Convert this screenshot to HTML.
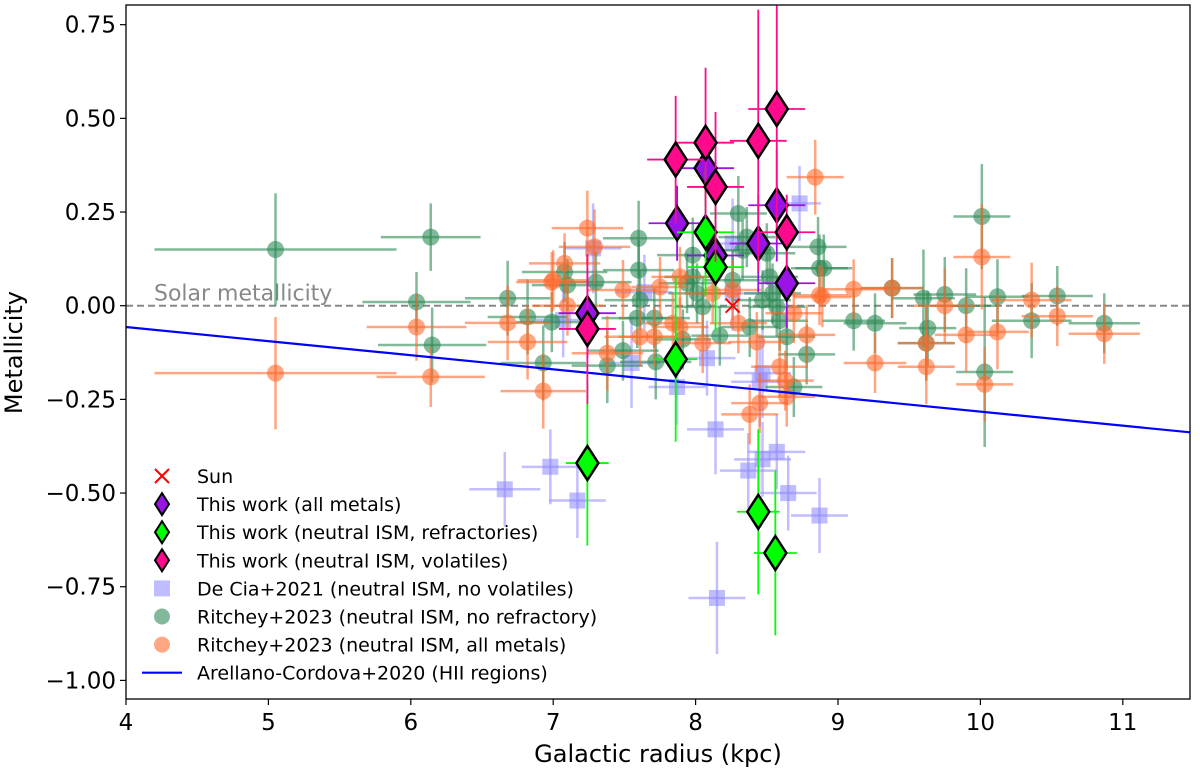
<!DOCTYPE html>
<html><head><meta charset="utf-8">
<style>
html,body{margin:0;padding:0;background:#fff;}
svg{display:block;font-family:"DejaVu Sans","Liberation Sans",sans-serif;}
</style></head>
<body>
<svg id="chart" width="1200" height="772" viewBox="0 0 1200 772" xmlns="http://www.w3.org/2000/svg">
<g id="marks"></g>
<g id="axes"></g>
<g id="legend"></g>
</svg>
<script>
// ---- data ----
const xTicks = [4,5,6,7,8,9,10,11];
const yTicks = [0.75,0.5,0.25,0,-0.25,-0.5,-0.75,-1.0];
const yTickLabels = ["0.75","0.50","0.25","0.00","\u22120.25","\u22120.50","\u22120.75","\u22121.00"];

const greenX = [5.05,6.14,6.04,6.15,6.68,6.82,6.99,6.93,7.08,7.1,7.3,7.6,7.6,7.61,7.59,7.71,7.49,7.38,7.72,7.98,7.94,8.01,8.05,7.91,8.17,8.3,8.33,8.36,8.26,8.5,8.52,8.54,8.57,8.59,8.64,8.78,8.69,7.98,8.47,8.38,10.01,8.86,8.87,8.9,9.11,9.26,9.38,9.6,9.63,9.62,9.75,9.9,10.12,10.03,10.36,10.54,10.87];
const greenY = [0.15,0.183,0.01,-0.105,0.02,-0.03,-0.044,-0.153,0.09,0.055,0.063,0.18,0.095,0.015,-0.033,-0.033,-0.12,-0.16,-0.15,0.135,0.06,0.033,-0.003,-0.09,-0.08,0.246,0.148,0.183,0.068,0.14,0.077,0.033,-0.003,-0.04,-0.083,-0.13,-0.217,0.077,0.015,-0.057,0.238,0.157,0.10,0.10,-0.04,-0.047,0.047,0.02,-0.06,-0.10,0.03,0.0,0.024,-0.177,-0.04,0.026,-0.047];
const greenXErr = [0.85,0.35,0.38,0.38,0.3,0.28,0.25,0.3,0.3,0.25,0.25,0.25,0.25,0.25,0.25,0.25,0.25,0.25,0.25,0.25,0.2,0.2,0.2,0.2,0.2,0.2,0.2,0.2,0.2,0.2,0.2,0.2,0.2,0.2,0.2,0.2,0.2,0.2,0.2,0.2,0.2,0.2,0.2,0.2,0.22,0.22,0.22,0.22,0.2,0.2,0.22,0.22,0.22,0.2,0.28,0.25,0.25];
const greenYErr = [0.15,0.09,0.08,0.1,0.1,0.1,0.08,0.1,0.08,0.07,0.08,0.1,0.08,0.08,0.08,0.08,0.08,0.1,0.1,0.1,0.08,0.08,0.08,0.08,0.08,0.1,0.08,0.08,0.08,0.08,0.08,0.08,0.08,0.08,0.08,0.08,0.08,0.08,0.08,0.08,0.14,0.08,0.09,0.09,0.08,0.08,0.08,0.13,0.1,0.1,0.1,0.1,0.1,0.2,0.1,0.08,0.08];

const orangeX = [5.05,6.04,6.14,6.68,6.82,6.93,7.0,7.08,7.24,7.1,7.29,6.99,7.49,7.61,7.71,7.38,7.89,7.84,8.05,8.3,8.43,8.59,8.63,8.64,8.45,8.38,8.89,8.12,8.26,7.75,7.89,8.69,8.84,10.01,9.11,9.38,9.26,9.62,9.62,9.75,9.9,10.12,10.03,10.36,10.54,10.87,8.87,8.78];
const orangeY = [-0.18,-0.057,-0.19,-0.046,-0.097,-0.228,0.068,0.113,0.207,0.0,0.157,0.063,0.042,-0.083,-0.083,-0.127,0.077,-0.047,-0.1,-0.047,-0.097,-0.163,-0.2,-0.243,-0.26,-0.29,0.023,0.033,0.042,0.05,-0.057,-0.02,0.343,0.13,0.044,0.047,-0.153,-0.10,-0.163,0.0,-0.078,-0.07,-0.21,0.015,-0.028,-0.075,0.028,-0.078];
const orangeXErr = [0.85,0.35,0.38,0.3,0.28,0.3,0.25,0.25,0.25,0.25,0.25,0.25,0.25,0.25,0.25,0.25,0.2,0.2,0.2,0.2,0.2,0.2,0.2,0.2,0.2,0.2,0.2,0.2,0.2,0.2,0.2,0.2,0.2,0.2,0.22,0.22,0.22,0.2,0.2,0.22,0.22,0.22,0.2,0.28,0.25,0.25,0.2,0.2];
const orangeYErr = [0.15,0.09,0.08,0.1,0.1,0.1,0.08,0.08,0.1,0.08,0.1,0.08,0.08,0.08,0.08,0.1,0.08,0.08,0.08,0.08,0.08,0.08,0.08,0.08,0.08,0.08,0.08,0.08,0.08,0.08,0.08,0.08,0.1,0.14,0.08,0.08,0.08,0.1,0.1,0.1,0.1,0.1,0.1,0.1,0.08,0.08,0.08,0.08];

const blueX = [7.28,7.64,7.07,7.55,7.87,8.08,8.26,8.47,8.45,8.14,8.73,8.26,6.66,6.98,7.17,8.37,8.47,8.57,8.65,8.87,8.15];
const blueY = [0.153,0.036,-0.038,-0.153,-0.217,-0.14,0.166,-0.18,-0.203,-0.33,0.273,0.033,-0.49,-0.43,-0.52,-0.44,-0.41,-0.39,-0.5,-0.56,-0.78];
const blueXErr = [0.2,0.2,0.2,0.2,0.2,0.2,0.2,0.2,0.2,0.2,0.15,0.2,0.25,0.2,0.2,0.2,0.2,0.2,0.2,0.2,0.2];
const blueYErr = [0.12,0.1,0.1,0.12,0.1,0.1,0.12,0.12,0.12,0.12,0.1,0.1,0.1,0.1,0.1,0.1,0.1,0.1,0.1,0.1,0.15];

const purpleX = [7.24,7.87,8.44,8.64,8.57,8.14,8.07];
const purpleY = [-0.02,0.22,0.166,0.06,0.268,0.134,0.367];
const purpleXErr = [0.2,0.2,0.2,0.2,0.2,0.2,0.2];
const purpleYErr = [0.12,0.1,0.13,0.12,0.15,0.12,0.1];

const limeX = [8.07,8.14,7.86,7.24,8.44,8.56];
const limeY = [0.196,0.103,-0.143,-0.42,-0.55,-0.66];
const limeXErr = [0.2,0.2,0.15,0.15,0.15,0.15];
const limeYErr = [0.17,0.17,0.22,0.22,0.22,0.22];

const pinkX = [7.86,8.07,8.14,8.44,8.57,8.64,7.24];
const pinkY = [0.39,0.435,0.317,0.44,0.525,0.196,-0.062];
const pinkXErr = [0.2,0.2,0.2,0.2,0.2,0.2,0.2];
const pinkYErr = [0.17,0.2,0.2,0.35,0.35,0.1,0.2];

const sunX = [8.26];
const sunY = [0.0];

const lineX = [4, 11.5];
const lineY = [-0.057, -0.339];

// ---- axes ----
const L=126, R=1190, T=5, B=699;
function sx(v){ return 126 + (v-4)*142.4; }
function sy(v){ return 305.7 - v*374.7; }
const NS="http://www.w3.org/2000/svg";
function mk(tag, attrs, parent){ const e=document.createElementNS(NS,tag); for(const k in attrs) e.setAttribute(k,attrs[k]); parent.appendChild(e); return e; }
const marks=document.getElementById('marks'), axes=document.getElementById('axes'), legend=document.getElementById('legend');

const clip=mk('clipPath',{id:'pc'},marks); mk('rect',{x:L,y:T,width:R-L,height:B-T},clip);
const pg=mk('g',{'clip-path':'url(#pc)'},marks);

// solar line
const sol=mk('line',{x1:L,x2:R,y1:sy(0),y2:sy(0),stroke:'#888',"stroke-width":2,"stroke-dasharray":"7,4"},pg);


const solT=mk('text',{x:154,y:sy(0)-5,"font-size":22,fill:'#888'},pg);
solT.textContent='Solar metallicity';



function errbars(X,Y,XE,YE,color,op,w,g){
  for(let i=0;i<X.length;i++){
    mk('line',{x1:sx(X[i]-XE[i]),x2:sx(X[i]+XE[i]),y1:sy(Y[i]),y2:sy(Y[i]),stroke:color,"stroke-width":w,opacity:op},g);
    mk('line',{x1:sx(X[i]),x2:sx(X[i]),y1:sy(Y[i]-YE[i]),y2:sy(Y[i]+YE[i]),stroke:color,"stroke-width":w,opacity:op},g);
  }
}
function circles(X,Y,XE,YE,color,name){
  const g=mk('g',{},pg);
  
  
  errbars(X,Y,XE,YE,color,0.6,2.5,g);
  for(let i=0;i<X.length;i++){
    const c=mk('circle',{cx:sx(X[i]),cy:sy(Y[i]),r:8.5,fill:color,opacity:0.6},g);
    
    
  }
}
// blue squares
(function(){
  const g=mk('g',{},pg);
  
  
  errbars(blueX,blueY,blueXErr,blueYErr,'#9a94ff',0.6,2.5,g);
  for(let i=0;i<blueX.length;i++){
    const r=mk('rect',{x:sx(blueX[i])-8,y:sy(blueY[i])-8,width:16,height:16,fill:'#8c86ff',opacity:0.55},g);
    
    
  }
})();
circles(greenX,greenY,greenXErr,greenYErr,'#2e8b57','ritchey-no-refractory');
circles(orangeX,orangeY,orangeXErr,orangeYErr,'#ff6b2e','ritchey-all-metals');

// HII line
const hl=mk('line',{x1:sx(lineX[0]),y1:sy(lineY[0]),x2:sx(lineX[1]),y2:sy(lineY[1]),stroke:'#0000ff',"stroke-width":2.2},pg);



function dpath(cx,cy,w,h){ return `M${cx},${cy-h} L${cx+w},${cy} L${cx},${cy+h} L${cx-w},${cy} Z`; }
function diamonds(X,Y,XE,YE,color,name){
  const g=mk('g',{},pg);
  
  
  errbars(X,Y,XE,YE,color,1,1.8,g);
  for(let i=0;i<X.length;i++){
    const p=mk('path',{d:dpath(sx(X[i]),sy(Y[i]),11,17),fill:color,stroke:'#000',"stroke-width":2.5},g);
    
    
  }
}
diamonds(purpleX,purpleY,purpleXErr,purpleYErr,'#9a14e6','this-work-all-metals');
diamonds(limeX,limeY,limeXErr,limeYErr,'#00ff00','this-work-refractories');
diamonds(pinkX,pinkY,pinkXErr,pinkYErr,'#ff0a8c','this-work-volatiles');

// sun
for(let i=0;i<sunX.length;i++){
  const g=mk('g',{stroke:'#ff0000',"stroke-width":2},pg);
  
  
  const x=sx(sunX[i]), y=sy(sunY[i]);
  mk('line',{x1:x-7,y1:y-7,x2:x+7,y2:y+7},g); mk('line',{x1:x-7,y1:y+7,x2:x+7,y2:y-7},g);
}

// frame & ticks
const fr=mk('rect',{x:L,y:T,width:R-L,height:B-T,fill:'none',stroke:'#000',"stroke-width":1.3},axes);


xTicks.forEach(v=>{
  const x=sx(v);
  mk('line',{x1:x,x2:x,y1:B,y2:B+6,stroke:'#000',"stroke-width":1.2},axes);
  const t=mk('text',{x:x,y:B+31,"text-anchor":'middle',"font-size":23},axes);
  t.textContent=String(v);
  
  
});
yTicks.forEach((v,i)=>{
  const y=sy(v);
  mk('line',{x1:L-6,x2:L,y1:y,y2:y,stroke:'#000',"stroke-width":1.2},axes);
  const t=mk('text',{x:L-10,y:y+8,"text-anchor":'end',"font-size":23},axes);
  t.textContent=yTickLabels[i];
  
  
});
const xt=mk('text',{x:(L+R)/2,y:762,"text-anchor":'middle',"font-size":24},axes);
xt.textContent='Galactic radius (kpc)';


const yt=mk('text',{x:0,y:0,"text-anchor":'middle',"font-size":24,transform:`translate(22,${sy(-0.125)}) rotate(-90)`},axes);
yt.textContent='Metallicity';



// legend
const labels=['Sun','This work (all metals)','This work (neutral ISM, refractories)','This work (neutral ISM, volatiles)','De Cia+2021 (neutral ISM, no volatiles)','Ritchey+2023 (neutral ISM, no refractory)','Ritchey+2023 (neutral ISM, all metals)','Arellano-Cordova+2020 (HII regions)'];
const names=['sun','all-metals','refractories','volatiles','de-cia','ritchey-no-refractory','ritchey-all-metals','arellano-cordova'];
labels.forEach((lab,i)=>{
  const y=476+i*28.1, mx=162;
  const g=mk('g',{},legend);
  
  
  if(i===0){ mk('line',{x1:mx-7,y1:y-7,x2:mx+7,y2:y+7,stroke:'#f00',"stroke-width":2},g); mk('line',{x1:mx-7,y1:y+7,x2:mx+7,y2:y-7,stroke:'#f00',"stroke-width":2},g); }
  else if(i<=3){ mk('path',{d:dpath(mx,y,7,11),fill:['','#9a14e6','#00ff00','#ff0a8c'][i],stroke:'#000',"stroke-width":2},g); }
  else if(i===4){ mk('rect',{x:mx-8,y:y-8,width:16,height:16,fill:'#8c86ff',opacity:0.55},g); }
  else if(i===5){ mk('circle',{cx:mx,cy:y,r:8,fill:'#2e8b57',opacity:0.6},g); }
  else if(i===6){ mk('circle',{cx:mx,cy:y,r:8,fill:'#ff6b2e',opacity:0.6},g); }
  else { mk('line',{x1:142,x2:182,y1:y,y2:y,stroke:'#00f',"stroke-width":2.2},g); }
  const t=mk('text',{x:197,y:y+7,"font-size":19},g);
  t.textContent=lab;
});
</script>
</body></html>
